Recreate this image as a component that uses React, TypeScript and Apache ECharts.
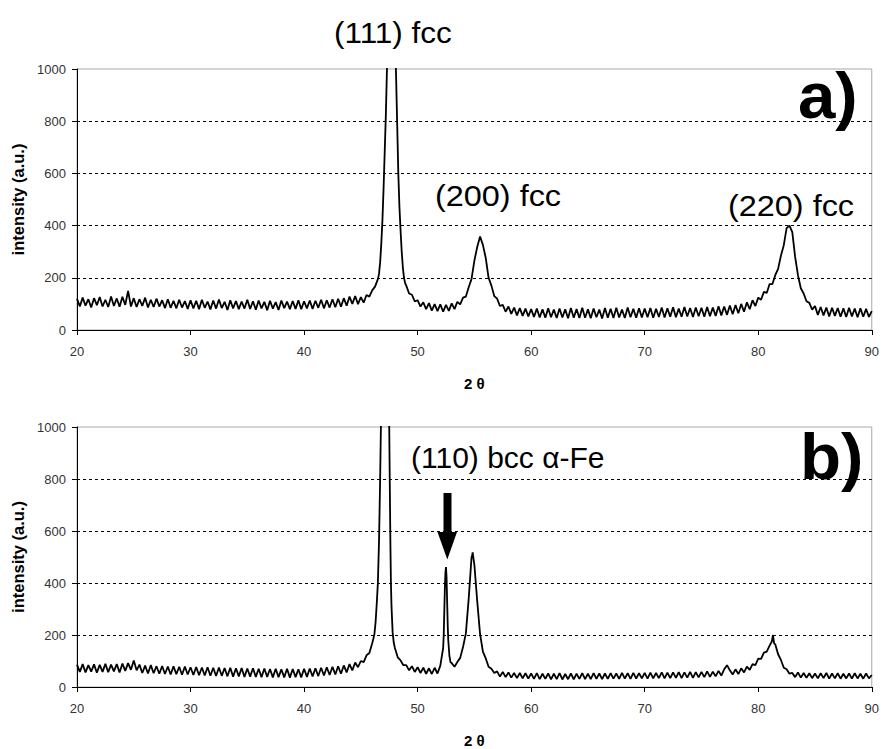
import React, { useEffect, useRef } from "react";
import * as echarts from "echarts";

// 2θ grid for the baseline readings
const thetaStart = 20;
const thetaStep = 0.25;

// Panel a) intensity read every 0.25° from 20° to 90°
const intensityA: number[] = [
  120, 90, 124, 93, 118, 86, 122, 95, 126, 90, 116, 88, 128, 92, 121, 89, 127, 96, 150, 90,
  122, 88, 118, 92, 124, 86, 116, 88, 120, 90, 114, 84, 118, 85, 112, 83, 116, 86, 111, 81,
  114, 83, 112, 80, 116, 85, 109, 79, 113, 82, 117, 84, 108, 77, 114, 83, 111, 80, 109, 82,
  116, 81, 110, 78, 113, 83, 108, 76, 112, 82, 107, 77, 113, 84, 109, 80, 111, 81, 114, 80,
  110, 83, 113, 81, 112, 85, 116, 83, 114, 86, 118, 87, 120, 89, 122, 93, 128, 100, 130, 99,
  126, 105, 134, 128, 152, 166, 195, 260, 540, 900, 1450, 1700, 1150, 700, 380, 220, 170, 140, 135, 110,
  114, 90, 106, 80, 103, 74, 99, 72, 98, 70, 96, 73, 102, 80, 108, 98, 124, 128, 164, 196,
  266, 318, 358, 326, 276, 200, 170, 130, 120, 92, 96, 70, 90, 62, 86, 56, 84, 54, 82, 52,
  80, 50, 82, 48, 79, 47, 83, 49, 78, 46, 82, 48, 79, 45, 84, 47, 80, 46, 85, 47,
  79, 45, 82, 49, 78, 44, 84, 47, 81, 46, 85, 48, 78, 46, 86, 49, 81, 47, 83, 48,
  82, 49, 84, 47, 81, 50, 86, 48, 83, 51, 87, 49, 82, 51, 88, 52, 84, 50, 86, 53,
  85, 51, 88, 53, 86, 54, 91, 56, 90, 58, 94, 60, 96, 64, 100, 70, 106, 80, 114, 92,
  124, 116, 146, 142, 176, 176, 210, 234, 285, 325, 390, 400, 375, 280, 210, 160, 140, 110, 104, 78,
  92, 58, 88, 56, 86, 52, 85, 54, 84, 51, 83, 50, 85, 52, 82, 49, 83, 51, 81, 50,
  72,
];

// Panel a) finer readings across the (111) fcc peak
const peakA111: [number, number][] = [
  [46.6, 215], [46.7, 260], [46.8, 330], [46.9, 420], [47.0, 540], [47.1, 680], [47.2, 820],
  [47.3, 1000], [47.4, 1200], [47.5, 1450], [47.6, 1650], [47.7, 1750], [47.8, 1650], [47.9, 1400],
  [48.0, 1150], [48.1, 980], [48.2, 790], [48.3, 600], [48.4, 470], [48.5, 380], [48.6, 300],
  [48.7, 240], [48.8, 200], [48.9, 180],
];

// Panel b) intensity read every 0.25° from 20° to 90°
const intensityB: number[] = [
  86, 58, 88, 56, 84, 59, 87, 55, 85, 58, 89, 57, 86, 60, 88, 56, 90, 62, 92, 66,
  102, 64, 86, 54, 82, 52, 84, 53, 80, 51, 81, 50, 79, 48, 80, 49, 78, 47, 79, 48,
  76, 46, 77, 45, 75, 44, 76, 43, 74, 42, 75, 43, 73, 41, 74, 40, 72, 41, 73, 39,
  71, 40, 72, 39, 70, 38, 71, 39, 69, 37, 70, 38, 68, 37, 70, 36, 69, 38, 68, 37,
  70, 39, 71, 41, 72, 42, 74, 44, 76, 46, 78, 48, 80, 51, 83, 56, 88, 64, 94, 76,
  100, 96, 122, 131, 168, 230, 400, 800, 2200, 1300, 700, 220, 150, 114, 102, 84, 84, 64, 80, 58,
  76, 54, 74, 51, 72, 50, 74, 52, 82, 150, 460, 240, 92, 78, 96, 112, 154, 206, 340, 500,
  470, 330, 204, 136, 110, 78, 70, 54, 60, 40, 58, 38, 56, 36, 54, 34, 54, 33, 53, 32,
  52, 31, 53, 30, 51, 31, 52, 29, 51, 30, 53, 29, 50, 30, 52, 29, 51, 31, 53, 30,
  51, 30, 53, 31, 52, 30, 52, 31, 53, 32, 52, 31, 54, 32, 53, 31, 54, 32, 53, 33,
  54, 32, 55, 33, 54, 34, 56, 33, 55, 34, 56, 35, 57, 34, 56, 36, 58, 35, 57, 37,
  58, 38, 60, 39, 59, 41, 62, 44, 68, 84, 64, 48, 68, 50, 72, 56, 78, 66, 88, 84,
  109, 108, 132, 136, 159, 170, 164, 126, 104, 74, 68, 51, 54, 38, 56, 36, 54, 35, 53, 34,
  52, 33, 53, 34, 54, 32, 52, 33, 53, 32, 51, 33, 52, 32, 53, 33, 51, 32, 52, 33,
  46,
];

// Panel b) finer readings across the peaks
const peakB111: [number, number][] = [
  [46.1, 185], [46.2, 205], [46.3, 250], [46.4, 320], [46.5, 400], [46.6, 560], [46.7, 800],
  [46.8, 1100], [46.9, 1600], [47.0, 2200], [47.1, 2500], [47.2, 2200], [47.3, 1600], [47.4, 1200],
  [47.5, 1000], [47.6, 560], [47.65, 400], [47.7, 310], [47.8, 210], [47.9, 170],
];
const peakB110: [number, number][] = [
  [52.3, 200], [52.35, 290], [52.4, 380], [52.45, 440], [52.5, 461], [52.55, 420], [52.6, 330],
  [52.65, 240], [52.7, 180], [52.8, 120], [52.9, 95],
];
const peakB200: [number, number][] = [[54.8, 505], [54.85, 518], [54.9, 500]];
const peakB220: [number, number][] = [[81.2, 175], [81.3, 200], [81.4, 168]];

const yTicks = { min: 0, max: 1000, step: 200 };
const xTicks = { min: 20, max: 90, step: 10 };
const gridLevels = [200, 400, 600, 800];

function buildSeries(base: number[], details: [number, number][][]): [number, number][] {
  const ranges = details.map((d) => [d[0][0], d[d.length - 1][0]]);
  const pts: [number, number][] = [];
  base.forEach((v, i) => {
    const x = +(thetaStart + i * thetaStep).toFixed(2);
    if (!ranges.some(([a, b]) => x >= a && x <= b)) pts.push([x, v]);
  });
  details.forEach((d) => d.forEach((p) => pts.push(p)));
  pts.sort((p, q) => p[0] - q[0]);
  return pts;
}

const FONT = '"Liberation Sans", Arial, sans-serif';

export default function App() {
  const ref = useRef<HTMLDivElement>(null);
  useEffect(() => {
    if (!ref.current) return;
    const chart = echarts.init(ref.current, null, { renderer: "svg" });
    const dataA = buildSeries(intensityA, [peakA111]);
    const dataB = buildSeries(intensityB, [peakB111, peakB110, peakB200, peakB220]);

    const gridBase = { left: 77, right: 9, show: true, borderColor: "#a8a8a8", borderWidth: 1 };
    const xAxisBase = (gi: number) => ({
      type: "value",
      gridIndex: gi,
      min: xTicks.min,
      max: xTicks.max,
      interval: xTicks.step,
      name: "2 θ",
      nameLocation: "middle",
      nameGap: 46,
      nameTextStyle: { fontFamily: FONT, fontWeight: "bold", fontSize: 15, color: "#000" },
      axisLine: { show: true, lineStyle: { color: "#000", width: 1 } },
      axisTick: { show: true, inside: false, length: 5, lineStyle: { color: "#000" } },
      axisLabel: { fontFamily: FONT, fontSize: 13, color: "#333", margin: 15, formatter: (v: number) => String(v) },
      splitLine: { show: false },
    });
    const yAxisBase = (gi: number) => ({
      type: "value",
      gridIndex: gi,
      min: yTicks.min,
      max: yTicks.max,
      interval: yTicks.step,
      name: "intensity (a.u.)",
      nameLocation: "middle",
      nameGap: 34,
      nameTextStyle: { fontFamily: FONT, fontWeight: "bold", fontSize: 16.5, color: "#000" },
      axisLine: { show: true, lineStyle: { color: "#000", width: 1 } },
      axisTick: { show: true, inside: false, length: 5, lineStyle: { color: "#000" } },
      axisLabel: { fontFamily: FONT, fontSize: 13, color: "#333", margin: 11, formatter: (v: number) => String(v) },
      splitLine: { show: false },
    });
    const series = (data: [number, number][], gi: number) => ({
      type: "line",
      xAxisIndex: gi,
      yAxisIndex: gi,
      data,
      showSymbol: false,
      symbol: "none",
      clip: true,
      silent: true,
      lineStyle: { color: "#000", width: 1.8 },
      markLine: {
        silent: true,
        symbol: ["none", "none"],
        label: { show: false },
        lineStyle: { color: "#000", type: [3, 3], width: 1 },
        data: gridLevels.map((v) => ({ yAxis: v })),
        animation: false,
      },
      z: 3,
    });

    const txt = (text: string, x: number, y: number, size: number, bold = false, sx = 1) => ({
      type: "text",
      x,
      y,
      scaleX: sx,
      z: 10,
      style: {
        text,
        fill: "#000",
        font: `${bold ? "bold " : ""}${size}px ${FONT}`,
        align: "left",
        verticalAlign: "middle",
      },
    });

    chart.setOption({
      animation: false,
      textStyle: { fontFamily: FONT },
      grid: [
        { ...gridBase, top: 69, height: 261 },
        { ...gridBase, top: 427, height: 262 },
      ],
      xAxis: [xAxisBase(0), xAxisBase(1)],
      yAxis: [yAxisBase(0), yAxisBase(1)],
      series: [series(dataA, 0), series(dataB, 1)],
      graphic: [
        txt("(111) fcc", 334, 33, 30, false, 1.05),
        txt("(200) fcc", 435, 196, 30, false, 1.08),
        txt("(220) fcc", 728, 206, 30, false, 1.08),
        txt("a)", 798, 96, 64, true, 1.05),
        txt("b)", 800, 457, 64, true, 1.05),
        txt("(110) bcc α-Fe", 411, 457, 30, false, 1.0),
        {
          type: "polygon",
          z: 10,
          shape: {
            points: [
              [443.5, 493], [451.5, 493], [451.5, 532], [457, 532], [447.3, 559.5], [437.5, 532], [443.5, 532],
            ],
          },
          style: { fill: "#000" },
        },
      ],
    });
    return () => chart.dispose();
  }, []);
  return (
    <div
      ref={ref}
      style={{ position: "fixed", left: 0, top: 0, width: 882, height: 749, background: "#fff" }}
    />
  );
}
